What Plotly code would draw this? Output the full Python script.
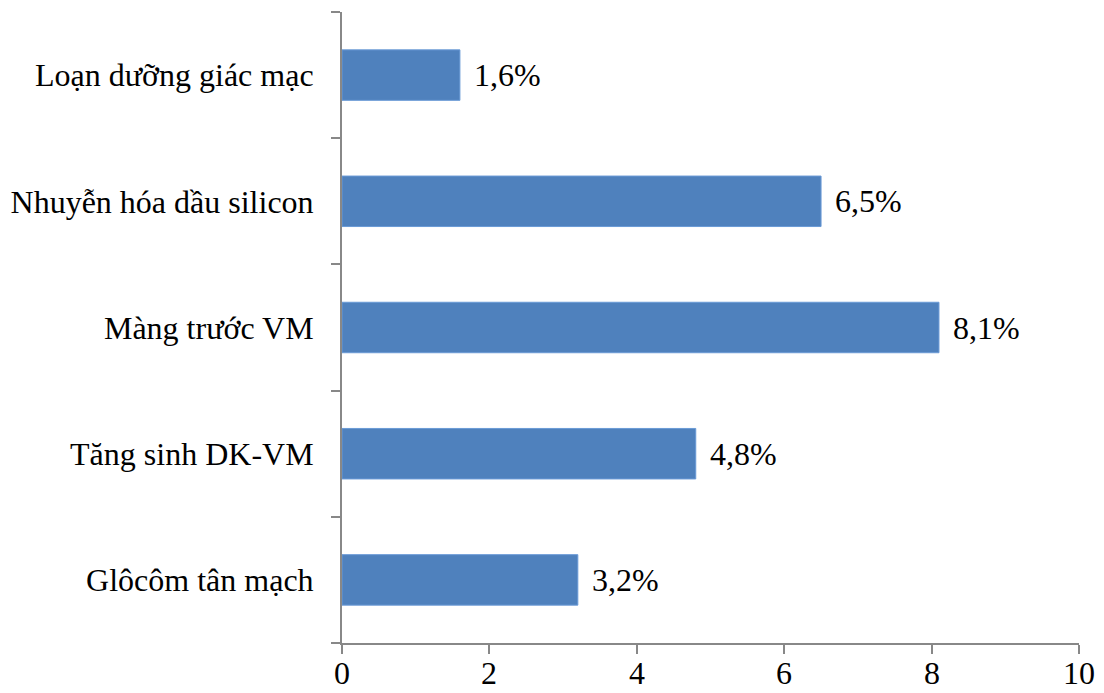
import plotly.graph_objects as go

categories = ["Glôcôm tân mạch", "Tăng sinh DK-VM", "Màng trước VM",
              "Nhuyễn hóa dầu silicon", "Loạn dưỡng giác mạc"]
values = [3.2, 4.8, 8.1, 6.5, 1.6]
x_ticks = [0, 2, 4, 6, 8, 10]

labels = [f"{v:.1f}%".replace(".", ",") for v in values]

FONT = "Liberation Serif"
AXIS_COLOR = "#888888"

fig = go.Figure()
fig.add_trace(go.Bar(
    x=values, y=categories, orientation="h",
    marker=dict(color="#4F81BD", line=dict(color="#6A9AD6", width=1)),
    width=0.4,
    hoverinfo="skip",
))

# value labels next to bars
for v, c, t in zip(values, categories, labels):
    fig.add_annotation(x=v, y=c, text=t, showarrow=False, xanchor="left",
                       yanchor="middle", xshift=12,
                       font=dict(family=FONT, size=32, color="black"))

# x tick labels (placed so they stay inside the page)
for tv in x_ticks:
    fig.add_annotation(x=tv, y=0, xref="x", yref="paper", text=str(tv),
                       showarrow=False, xanchor="center", yanchor="bottom",
                       yshift=-49, borderpad=0,
                       font=dict(family=FONT, size=32, color="black"))

fig.update_layout(
    width=1104, height=693,
    margin=dict(l=342, r=25, t=12, b=50, autoexpand=False),
    plot_bgcolor="white", paper_bgcolor="white",
    showlegend=False,
    font=dict(family=FONT, size=32, color="black"),
    xaxis=dict(range=[0, 10], tickvals=x_ticks, showgrid=False, zeroline=False,
               showline=True, linecolor=AXIS_COLOR, linewidth=2,
               ticks="outside", ticklen=9, tickwidth=2, tickcolor=AXIS_COLOR,
               automargin=False, showticklabels=False),
    yaxis=dict(categoryorder="array", categoryarray=categories,
               showgrid=False, zeroline=False, showline=True,
               linecolor=AXIS_COLOR, linewidth=2,
               ticks="outside", ticklen=9, tickwidth=2, tickcolor=AXIS_COLOR,
               tickson="boundaries", ticklabelstandoff=20, automargin=False,
               tickfont=dict(family=FONT, size=32, color="black")),
)

fig.write_html("out.html")
